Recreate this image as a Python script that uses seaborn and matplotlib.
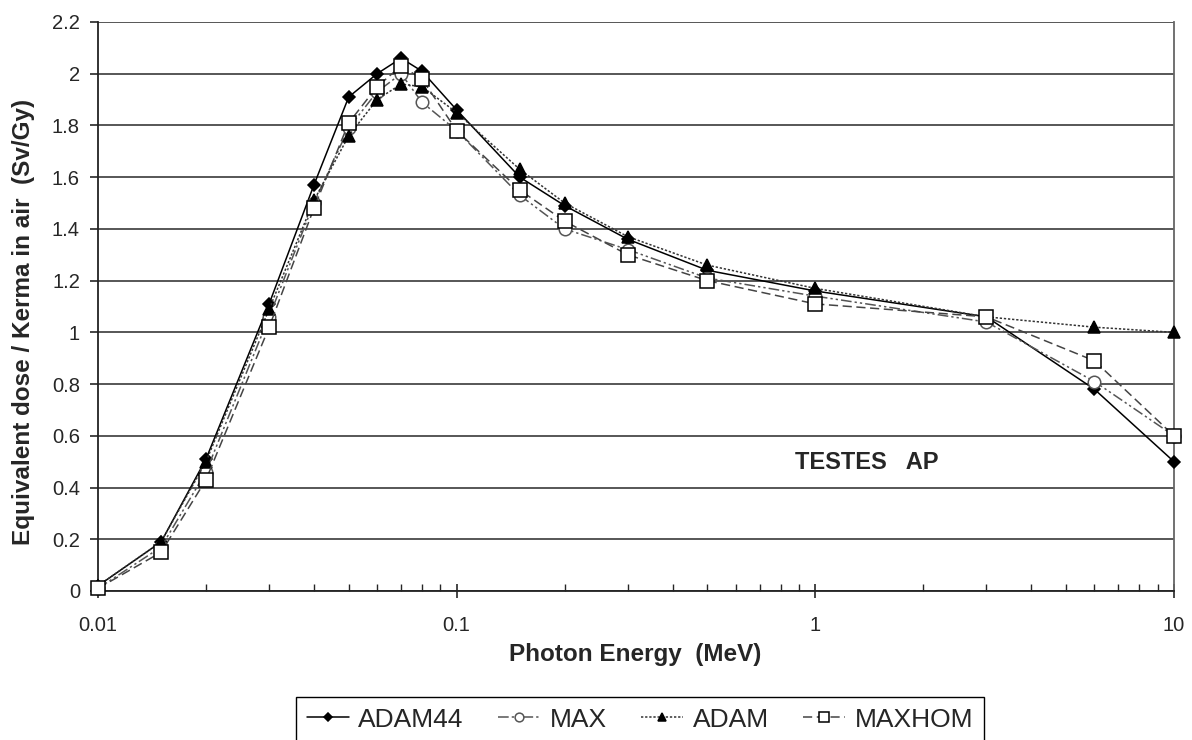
import numpy as np
import pandas as pd
import matplotlib
matplotlib.use("Agg")
import matplotlib.pyplot as plt
import seaborn as sns
from matplotlib.ticker import FixedLocator, FuncFormatter, LogLocator, NullFormatter

energy = [0.01, 0.015, 0.02, 0.03, 0.04, 0.05, 0.06, 0.07, 0.08, 0.1,
          0.15, 0.2, 0.3, 0.5, 1, 3, 6, 10]
adam44 = [0.02, 0.19, 0.51, 1.11, 1.57, 1.91, 2.00, 2.06, 2.01, 1.86,
          1.60, 1.49, 1.36, 1.24, 1.16, 1.06, 0.78, 0.50]
max_ = [0.01, 0.17, 0.46, 1.06, 1.50, 1.79, 1.93, 2.00, 1.89, 1.78,
        1.53, 1.40, 1.32, 1.21, 1.14, 1.04, 0.81, 0.60]
adam = [0.02, 0.19, 0.50, 1.09, 1.51, 1.76, 1.90, 1.96, 1.95, 1.85,
        1.63, 1.50, 1.37, 1.26, 1.17, 1.06, 1.02, 1.00]
maxhom = [0.01, 0.15, 0.43, 1.02, 1.48, 1.81, 1.95, 2.03, 1.98, 1.78,
          1.55, 1.43, 1.30, 1.20, 1.11, 1.06, 0.89, 0.60]
series_names = ["ADAM44", "MAX", "ADAM", "MAXHOM"]
y_ticks = [0, 0.2, 0.4, 0.6, 0.8, 1, 1.2, 1.4, 1.6, 1.8, 2, 2.2]
x_ticks = [0.01, 0.1, 1, 10]

sns.set_style("white")
plt.rcParams['font.family'] = ['Liberation Sans', 'DejaVu Sans']

fig = plt.figure(figsize=(11.92, 7.40), dpi=100)
ax = fig.add_axes([98/1192, 1-591/740, (1174-98)/1192, (591-22)/740])

styles = {
    "ADAM44": dict(color="black", linestyle="-", marker="D", markersize=6,
                   markerfacecolor="black", markeredgecolor="black", linewidth=1.1),
    "MAX": dict(color="#555555", linestyle=(0, (7, 2, 1.5, 2, 1.5, 2)), marker="o", markersize=9,
                markerfacecolor="white", markeredgecolor="#555555", linewidth=1.1),
    "ADAM": dict(color="#333333", linestyle=(0, (1.5, 1.2)), marker="^", markersize=8,
                 markerfacecolor="black", markeredgecolor="black", linewidth=1.1),
    "MAXHOM": dict(color="#444444", linestyle=(0, (6, 3)), marker="s", markersize=10,
                   markerfacecolor="white", markeredgecolor="black", linewidth=1.1),
}
values = {"ADAM44": adam44, "MAX": max_, "ADAM": adam, "MAXHOM": maxhom}

for name in series_names:
    df = pd.DataFrame({"x": energy, "y": values[name]})
    st = styles[name]
    sns.lineplot(data=df, x="x", y="y", ax=ax, label=name, zorder=3,
                 markeredgewidth=1.1, clip_on=False, **st)

ax.set_xscale("log")
ax.set_xlim(0.01, 10)
ax.set_ylim(0, 2.2)
ax.yaxis.set_major_locator(FixedLocator(y_ticks))
ax.yaxis.set_major_formatter(FuncFormatter(lambda v, p: f"{v:g}"))
ax.xaxis.set_major_locator(FixedLocator(x_ticks))
ax.xaxis.set_major_formatter(FuncFormatter(lambda v, p: f"{v:g}"))
ax.xaxis.set_minor_locator(LogLocator(base=10, subs=np.arange(2, 10)))
ax.xaxis.set_minor_formatter(NullFormatter())

ax.grid(axis="y", color="#3a3a3a", linewidth=1.2)
ax.grid(axis="x", visible=False)
for s in ["left", "bottom"]:
    ax.spines[s].set_color("#222222")
    ax.spines[s].set_linewidth(1.3)
ax.spines["top"].set_visible(False)
ax.spines["right"].set_color("#666666")
ax.spines["right"].set_linewidth(1.3)

ax.tick_params(axis="y", which="major", direction="out", length=6, width=1.2,
               labelsize=14.5, left=True, pad=7)
ax.tick_params(axis="x", which="major", direction="inout", length=10, width=1.2,
               labelsize=14.5, bottom=True, pad=13)
ax.tick_params(axis="x", which="minor", direction="in", length=5, width=1.0, bottom=True)

ax.set_xlabel("Photon Energy  (MeV)", fontsize=17.5, fontweight="bold")
ax.xaxis.set_label_coords((635-98)/1076, (591-643)/569)
ax.set_ylabel("Equivalent dose / Kerma in air  (Sv/Gy)", fontsize=17.5, fontweight="bold")
ax.yaxis.set_label_coords((35-98)/1076, (591-322)/569)

ax.text(0.714, 0.225, "TESTES   AP", transform=ax.transAxes, fontsize=17,
        fontweight="bold", ha="center", va="center")

ax.get_legend().remove()
handles, labels = ax.get_legend_handles_labels()
leg = fig.legend(handles, labels, loc="upper center", bbox_to_anchor=(640/1192, 1-697/740),
                 borderaxespad=0, ncol=4, frameon=True, fancybox=False, fontsize=19,
                 handlelength=1.6, columnspacing=1.3, handletextpad=0.36, borderpad=0.4,
                 edgecolor="black", framealpha=1)
leg.get_frame().set_linewidth(1.0)
for h in leg.legend_handles:
    h.set_markersize(h.get_markersize() * 0.7)

fig.savefig("out.png", dpi=100)
